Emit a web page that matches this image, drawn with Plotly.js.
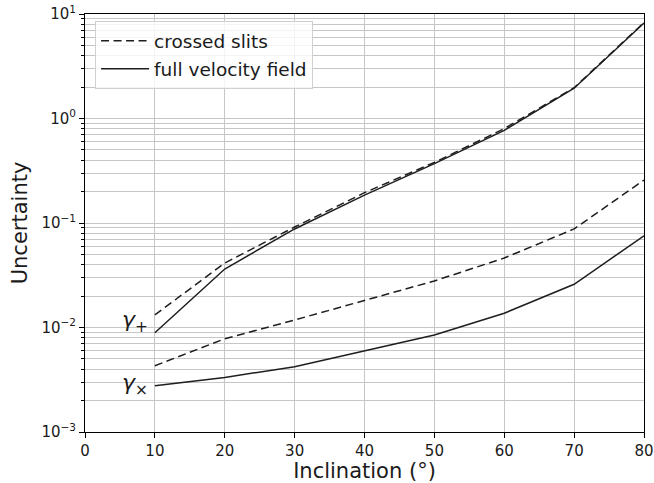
<!DOCTYPE html>
<html>
<head>
<meta charset="utf-8">
<script src="https://cdn.plot.ly/plotly-3.0.1.min.js"></script>
<style>
  html, body { margin: 0; padding: 0; background: #fff; }
  #plot { width: 654px; height: 483px; }
</style>
</head>
<body>
<div id="plot"></div>
<script>
// Inclination in degrees
const inclination = [10, 20, 30, 40, 50, 60, 70, 80];

// gamma_+ uncertainties
const gammaPlusSlits = [0.0132, 0.0414, 0.0916, 0.195, 0.38, 0.80, 1.97, 8.3];
const gammaPlusFull  = [0.0089, 0.0363, 0.0877, 0.185, 0.37, 0.77, 1.95, 8.2];

// gamma_x uncertainties
const gammaCrossSlits = [0.0043, 0.0078, 0.0118, 0.0180, 0.0279, 0.0462, 0.0877, 0.258];
const gammaCrossFull  = [0.00277, 0.00333, 0.00422, 0.00596, 0.00848, 0.0137, 0.0259, 0.0755];

// y axis labels
const yTickVals = [1e-3, 1e-2, 1e-1, 1e0, 1e1];
const yTickText = ['10<sup>−3</sup>', '10<sup>−2</sup>', '10<sup>−1</sup>', '10<sup>0</sup>', '10<sup>1</sup>'];

const lineColor = '#1e1e1e';
const gridColor = '#c6c6c6';
const textColor = '#1a1a1a';
const font = 'DejaVu Sans, sans-serif';
const dashed = '8px,4.5px';

// minor log ticks 2..9 within each decade
const minorVals = [];
for (let e = -3; e < 1; e++) {
  for (let k = 2; k <= 9; k++) minorVals.push(k * Math.pow(10, e));
}

function series(y, dash, name, show, group) {
  return {
    x: inclination, y: y, type: 'scatter', mode: 'lines',
    line: { color: lineColor, width: 1.5, dash: dash },
    name: name, showlegend: show, legendgroup: group, hoverinfo: 'skip'
  };
}

const traces = [
  series(gammaPlusSlits, dashed, 'crossed slits', true, 'a'),
  series(gammaPlusFull, 'solid', 'full velocity field', true, 'b'),
  series(gammaCrossSlits, dashed, 'crossed slits', false, 'a'),
  series(gammaCrossFull, 'solid', 'full velocity field', false, 'b')
];

const layout = {
  width: 654, height: 483,
  margin: { l: 85, r: 10, t: 14, b: 51 },
  paper_bgcolor: '#fff', plot_bgcolor: '#fff',
  font: { family: font, color: textColor, size: 15 },
  xaxis: {
    range: [0, 80], dtick: 10, tick0: 0,
    showline: true, linecolor: '#000', linewidth: 1, mirror: true,
    ticks: 'outside', ticklen: 5, tickcolor: '#000',
    showgrid: true, gridcolor: gridColor, gridwidth: 1,
    zeroline: false,
    tickfont: { size: 15, family: font, color: textColor },
    title: { text: 'Inclination (°)', font: { size: 21, family: font, color: textColor }, standoff: 1 }
  },
  yaxis: {
    type: 'log', range: [-3, 1],
    tickmode: 'array', tickvals: yTickVals, ticktext: yTickText,
    showline: true, linecolor: '#000', linewidth: 1, mirror: true,
    ticks: 'outside', ticklen: 5, tickcolor: '#000',
    showgrid: true, gridcolor: gridColor, gridwidth: 1,
    zeroline: false,
    minor: {
      tickmode: 'array', tickvals: minorVals,
      ticks: 'outside', ticklen: 3, tickcolor: '#000',
      showgrid: true, gridcolor: gridColor, gridwidth: 1
    },
    tickfont: { size: 15, family: font, color: textColor },
    title: { text: 'Uncertainty', font: { size: 21, family: font, color: textColor }, standoff: 8 }
  },
  legend: {
    x: 0.018, y: 0.983, xanchor: 'left', yanchor: 'top',
    bgcolor: 'rgba(255,255,255,0.8)', bordercolor: '#d0d0d0', borderwidth: 1,
    font: { size: 18.5, family: font, color: textColor },
    traceorder: 'grouped', tracegroupgap: 1, itemwidth: 48
  },
  annotations: [
    { xref: 'x', yref: 'y', x: 9.3, y: -1.947, text: '<i>γ</i><sub>+</sub>',
      showarrow: false, xanchor: 'right', yanchor: 'middle',
      font: { size: 22, family: font, color: textColor } },
    { xref: 'x', yref: 'y', x: 9.3, y: -2.55, text: '<i>γ</i><sub>×</sub>',
      showarrow: false, xanchor: 'right', yanchor: 'middle',
      font: { size: 22, family: font, color: textColor } }
  ]
};

Plotly.newPlot('plot', traces, layout, { displayModeBar: false, staticPlot: true });
</script>
</body>
</html>
